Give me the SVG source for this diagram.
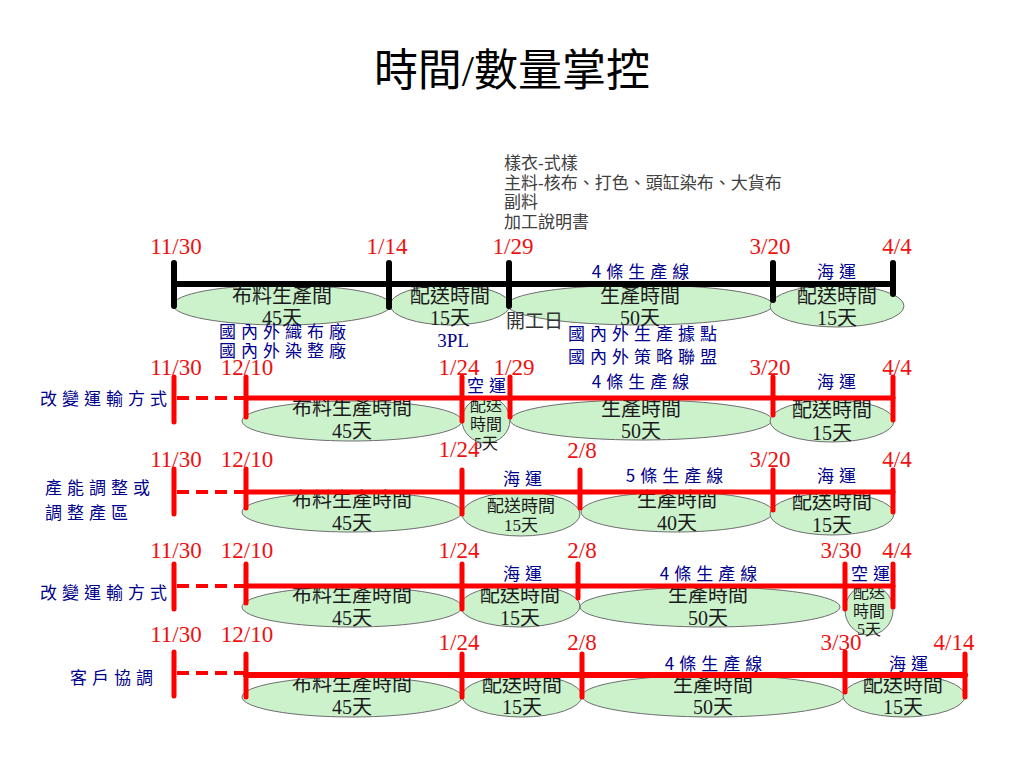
<svg xmlns="http://www.w3.org/2000/svg" width="1024" height="768" viewBox="0 0 1024 768">
<style>
.title{font-family:"Liberation Serif","Noto Sans CJK TC",serif;font-size:44px;fill:#000;text-anchor:middle}
.date{font-family:"Liberation Serif","Noto Sans CJK TC",serif;font-size:23px;fill:#ee1111;text-anchor:middle}
.et{font-family:"Liberation Serif","Noto Sans CJK TC",serif;font-size:20px;fill:#1a1a1a;text-anchor:middle}
.es{font-family:"Liberation Serif","Noto Sans CJK TC",serif;font-size:17px;fill:#1a1a1a;text-anchor:middle}
.ec{font-family:"Liberation Serif","Noto Sans CJK TC",serif;font-size:16px;fill:#1a1a1a;text-anchor:middle}
.bl{font-family:"Noto Sans CJK TC",sans-serif;font-size:17px;fill:#00008c;letter-spacing:5px}
.blm{font-family:"Noto Sans CJK TC",sans-serif;font-size:17px;fill:#00008c;letter-spacing:5px;text-anchor:middle}
.note{font-family:"Liberation Sans","Noto Sans CJK TC",sans-serif;font-size:17px;fill:#404040}
.ell{fill:#ccf2cc;stroke:#6e6e6e;stroke-width:1}
.blk{stroke:#000;stroke-width:6;stroke-linecap:round;fill:none}
.red{stroke:#ff0000;stroke-width:5;stroke-linecap:round;fill:none}
.dash{stroke:#ff0000;stroke-width:4;stroke-dasharray:12 7;fill:none}
</style>
<rect width="1024" height="768" fill="#fff"/>
<text class="title" x="512" y="86">時間/數量掌控</text>

<g id="notes">
<text class="note" x="504" y="169">樣衣-式樣</text>
<text class="note" x="504" y="189">主料-核布、打色、頭缸染布、大貨布</text>
<text class="note" x="504" y="208">副料</text>
<text class="note" x="504" y="228">加工說明書</text>
</g>

<!-- Row 1 nodes -->
<g id="r1-fabric"><ellipse class="ell" cx="282" cy="305" rx="109" ry="20"/><text class="et" x="282" y="303">布料生產間</text><text class="et" x="282" y="325">45天</text></g>
<g id="r1-ship"><ellipse class="ell" cx="450" cy="305" rx="60" ry="20"/><text class="et" x="450" y="303">配送時間</text><text class="et" x="450" y="325">15天</text></g>
<g id="r1-prod"><ellipse class="ell" cx="640" cy="305" rx="133" ry="20"/><text class="et" x="640" y="303">生產時間</text><text class="et" x="640" y="325">50天</text></g>
<g id="r1-deliv"><ellipse class="ell" cx="837" cy="306" rx="67" ry="21"/><text class="et" x="837" y="303">配送時間</text><text class="et" x="837" y="325">15天</text></g>

<!-- Row 2 nodes -->
<g id="r2-fabric"><ellipse class="ell" cx="352" cy="421" rx="110" ry="20"/><text class="et" x="352" y="415">布料生產時間</text><text class="et" x="352" y="438">45天</text></g>
<g id="r2-air"><ellipse class="ell" cx="486" cy="420" rx="24" ry="23"/><text class="ec" x="486" y="411">配送</text><text class="ec" x="486" y="430">時間</text><text class="ec" x="486" y="449">5天</text></g>
<g id="r2-prod"><ellipse class="ell" cx="641" cy="420" rx="131" ry="20"/><text class="et" x="641" y="416">生產時間</text><text class="et" x="641" y="438">50天</text></g>
<g id="r2-deliv"><ellipse class="ell" cx="832" cy="421" rx="62" ry="21"/><text class="et" x="832" y="417">配送時間</text><text class="et" x="832" y="440">15天</text></g>

<!-- Row 3 nodes -->
<g id="r3-fabric"><ellipse class="ell" cx="352" cy="512" rx="110" ry="20"/><text class="et" x="352" y="507">布料生產時間</text><text class="et" x="352" y="530">45天</text></g>
<g id="r3-ship"><ellipse class="ell" cx="521" cy="514" rx="59" ry="22"/><text class="es" x="521" y="512">配送時間</text><text class="es" x="521" y="531">15天</text></g>
<g id="r3-prod"><ellipse class="ell" cx="677" cy="512" rx="96" ry="20"/><text class="et" x="677" y="507">生產時間</text><text class="et" x="677" y="530">40天</text></g>
<g id="r3-deliv"><ellipse class="ell" cx="832" cy="514" rx="62" ry="21"/><text class="et" x="832" y="509">配送時間</text><text class="et" x="832" y="532">15天</text></g>

<!-- Row 4 nodes -->
<g id="r4-fabric"><ellipse class="ell" cx="352" cy="607" rx="110" ry="20"/><text class="et" x="352" y="602">布料生產時間</text><text class="et" x="352" y="625">45天</text></g>
<g id="r4-ship"><ellipse class="ell" cx="520" cy="606" rx="60" ry="21"/><text class="et" x="520" y="602">配送時間</text><text class="et" x="520" y="625">15天</text></g>
<g id="r4-prod"><ellipse class="ell" cx="710" cy="607" rx="130" ry="20"/><text class="et" x="708" y="602">生產時間</text><text class="et" x="708" y="625">50天</text></g>
<g id="r4-air"><ellipse class="ell" cx="869" cy="610" rx="24" ry="25"/><text class="ec" x="869" y="598">配送</text><text class="ec" x="869" y="617">時間</text><text class="ec" x="869" y="635">5天</text></g>

<!-- Row 5 nodes -->
<g id="r5-fabric"><ellipse class="ell" cx="352" cy="697" rx="110" ry="20"/><text class="et" x="352" y="691">布料生產時間</text><text class="et" x="352" y="714">45天</text></g>
<g id="r5-ship"><ellipse class="ell" cx="522" cy="696" rx="60" ry="21"/><text class="et" x="522" y="692">配送時間</text><text class="et" x="522" y="714">15天</text></g>
<g id="r5-prod"><ellipse class="ell" cx="713" cy="696" rx="131" ry="21"/><text class="et" x="713" y="692">生產時間</text><text class="et" x="713" y="714">50天</text></g>
<g id="r5-deliv"><ellipse class="ell" cx="904" cy="696" rx="61" ry="21"/><text class="et" x="903" y="692">配送時間</text><text class="et" x="903" y="714">15天</text></g>

<g id="connectors">
<!-- row 1 -->
<line class="blk" x1="174" y1="284" x2="893" y2="284"/>
<line class="blk" x1="174" y1="263" x2="174" y2="306"/>
<line class="blk" x1="389" y1="263" x2="389" y2="307"/>
<line class="blk" x1="509" y1="263" x2="509" y2="306"/>
<line class="blk" x1="773" y1="263" x2="773" y2="300"/>
<line class="blk" x1="893" y1="263" x2="893" y2="294"/>
<!-- row 2 -->
<line class="dash" x1="177" y1="398" x2="246" y2="398"/>
<line class="red" x1="246" y1="398" x2="893" y2="398"/>
<line class="red" x1="174" y1="377" x2="174" y2="422"/>
<line class="red" x1="246" y1="377" x2="246" y2="417"/>
<line class="red" x1="462" y1="377" x2="462" y2="421"/>
<line class="red" x1="510" y1="377" x2="510" y2="417"/>
<line class="red" x1="773" y1="377" x2="773" y2="415"/>
<line class="red" x1="893" y1="377" x2="893" y2="420"/>
<!-- row 3 -->
<line class="dash" x1="177" y1="492" x2="246" y2="492"/>
<line class="red" x1="246" y1="492" x2="893" y2="492"/>
<line class="red" x1="174" y1="469" x2="174" y2="514"/>
<line class="red" x1="246" y1="469" x2="246" y2="508"/>
<line class="red" x1="462" y1="470" x2="462" y2="514"/>
<line class="red" x1="580" y1="470" x2="580" y2="508"/>
<line class="red" x1="773" y1="470" x2="773" y2="510"/>
<line class="red" x1="893" y1="470" x2="893" y2="512"/>
<!-- row 4 -->
<line class="dash" x1="177" y1="586" x2="246" y2="586"/>
<line class="red" x1="246" y1="586" x2="893" y2="586"/>
<line class="red" x1="174" y1="564" x2="174" y2="609"/>
<line class="red" x1="246" y1="564" x2="246" y2="603"/>
<line class="red" x1="462" y1="564" x2="462" y2="609"/>
<line class="red" x1="578" y1="564" x2="578" y2="598"/>
<line class="red" x1="845" y1="564" x2="845" y2="609"/>
<line class="red" x1="893" y1="564" x2="893" y2="607"/>
<!-- row 5 -->
<line class="dash" x1="177" y1="673" x2="246" y2="673"/>
<line class="red" style="stroke-width:6" x1="246" y1="675" x2="965" y2="675"/>
<line class="red" x1="174" y1="652" x2="174" y2="696"/>
<line class="red" x1="246" y1="654" x2="246" y2="697"/>
<line class="red" x1="462" y1="654" x2="462" y2="697"/>
<line class="red" x1="582" y1="654" x2="582" y2="697"/>
<line class="red" x1="845" y1="652" x2="845" y2="692"/>
<line class="red" x1="965" y1="654" x2="965" y2="697"/>
</g>

<g id="dates">
<text class="date" x="176" y="254">11/30</text>
<text class="date" x="387" y="254">1/14</text>
<text class="date" x="513" y="254">1/29</text>
<text class="date" x="770" y="254">3/20</text>
<text class="date" x="897" y="254">4/4</text>

<text class="date" x="176" y="375">11/30</text>
<text class="date" x="247" y="375">12/10</text>
<text class="date" x="459" y="375">1/24</text>
<text class="date" x="514" y="375">1/29</text>
<text class="date" x="770" y="375">3/20</text>
<text class="date" x="897" y="375">4/4</text>

<text class="date" x="176" y="467">11/30</text>
<text class="date" x="247" y="467">12/10</text>
<text class="date" x="459" y="457">1/24</text>
<text class="date" x="582" y="458">2/8</text>
<text class="date" x="770" y="467">3/20</text>
<text class="date" x="897" y="467">4/4</text>

<text class="date" x="176" y="558">11/30</text>
<text class="date" x="247" y="558">12/10</text>
<text class="date" x="459" y="558">1/24</text>
<text class="date" x="582" y="558">2/8</text>
<text class="date" x="841" y="558">3/30</text>
<text class="date" x="897" y="558">4/4</text>

<text class="date" x="176" y="642">11/30</text>
<text class="date" x="247" y="642">12/10</text>
<text class="date" x="459" y="650">1/24</text>
<text class="date" x="582" y="650">2/8</text>
<text class="date" x="841" y="650">3/30</text>
<text class="date" x="954" y="650">4/14</text>
</g>

<g id="labels">
<text class="blm" x="643" y="278">4條生產線</text>
<text class="blm" x="839" y="278">海運</text>
<text class="bl" x="219" y="338">國內外織布廠</text>
<text class="bl" x="219" y="357">國內外染整廠</text>
<text x="453" y="347" style="font-family:'Liberation Serif',serif;font-size:19px;fill:#00008c;text-anchor:middle">3PL</text>
<text x="506" y="328" style="font-family:'Noto Sans CJK TC',sans-serif;font-size:19px;fill:#333">開工日</text>
<text class="bl" x="568" y="340">國內外生產據點</text>
<text class="bl" x="568" y="363">國內外策略聯盟</text>

<text class="bl" x="40" y="405">改變運輸方式</text>
<text class="blm" x="489" y="392">空運</text>
<text class="blm" x="643" y="388">4條生產線</text>
<text class="blm" x="839" y="388">海運</text>

<text class="bl" x="45" y="494">產能調整或</text>
<text class="bl" x="45" y="519">調整產區</text>
<text class="blm" x="525" y="485">海運</text>
<text class="blm" x="677" y="482">5條生產線</text>
<text class="blm" x="839" y="482">海運</text>

<text class="bl" x="40" y="599">改變運輸方式</text>
<text class="blm" x="525" y="580">海運</text>
<text class="blm" x="711" y="580">4條生產線</text>
<text class="blm" x="873" y="580">空運</text>

<text class="bl" x="70" y="684">客戶協調</text>
<text class="blm" x="716" y="670">4條生產線</text>
<text class="blm" x="911" y="670">海運</text>
</g>
</svg>
